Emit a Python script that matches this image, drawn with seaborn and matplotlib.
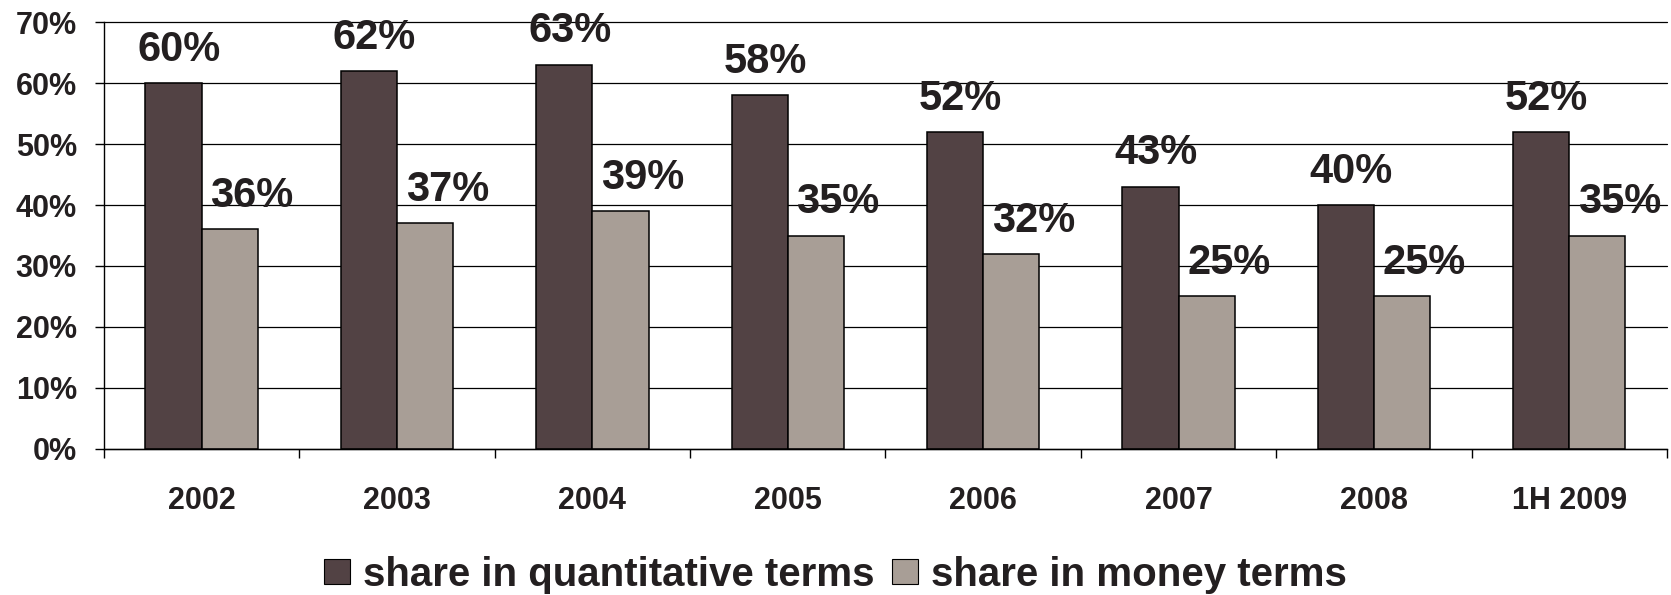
import matplotlib
matplotlib.use("Agg")
import matplotlib.pyplot as plt
from matplotlib.ticker import FixedLocator, MultipleLocator, FuncFormatter
import numpy as np
import pandas as pd
import seaborn as sns

# Share of transactions, by period
categories = ["2002", "2003", "2004", "2005", "2006", "2007", "2008", "1H 2009"]
quantitative = [60, 62, 63, 58, 52, 43, 40, 52]
money = [36, 37, 39, 35, 32, 25, 25, 35]
series_names = ["share in quantitative terms", "share in money terms"]

DARK = "#524244"
LIGHT = "#A89E96"

sns.set_theme(style="white")
plt.rcParams["font.family"] = ["Liberation Sans", "DejaVu Sans"]
plt.rcParams["font.weight"] = "bold"

df = pd.DataFrame({
    "period": categories * 2,
    "share": quantitative + money,
    "measure": [series_names[0]] * len(categories) + [series_names[1]] * len(categories),
})

fig = plt.figure(figsize=(16.71, 5.95), dpi=100)
ax = fig.add_axes([0.0622, 0.2454, 0.9976 - 0.0622, 0.963 - 0.2454])

sns.barplot(
    data=df, x="period", y="share", hue="measure",
    order=categories, hue_order=series_names,
    palette=[DARK, LIGHT], saturation=1, width=0.575, gap=0,
    edgecolor="black", linewidth=1.1, errorbar=None, ax=ax,
)

handles, labels = ax.get_legend_handles_labels()
if ax.get_legend() is not None:
    ax.get_legend().remove()

# value labels above each bar
x_shift = [4, 16]  # points, per series
for container, dx in zip(ax.containers, x_shift):
    for bar in container:
        h = bar.get_height()
        ax.annotate(
            f"{h:.0f}%",
            xy=(bar.get_x() + bar.get_width() / 2, h),
            xytext=(dx, 16), textcoords="offset points",
            ha="center", va="baseline",
            fontsize=30, fontweight="bold", color="#231f20",
            annotation_clip=False,
        )

ax.set_ylim(0, 70)
ax.set_xlim(-0.5, len(categories) - 0.5)
ax.yaxis.set_major_locator(MultipleLocator(10))
ax.yaxis.set_major_formatter(FuncFormatter(lambda v, p: f"{v:.0f}%"))
ax.yaxis.grid(True, color="black", linewidth=0.9)
ax.xaxis.grid(False)
ax.set_axisbelow(True)
for gl in ax.get_ygridlines():
    gl.set_clip_on(False)

ax.xaxis.set_minor_locator(FixedLocator(np.arange(-0.5, len(categories), 1.0)))
ax.tick_params(axis="x", which="major", length=0, pad=27, labelsize=22, labelcolor="#231f20")
ax.tick_params(axis="x", which="minor", length=6.5, width=1, color="black", direction="out", bottom=True)
ax.tick_params(axis="y", which="major", length=6.5, width=1, color="black", direction="out",
               left=True, pad=13, labelsize=22, labelcolor="#231f20")
for lab in ax.get_xticklabels() + ax.get_yticklabels():
    lab.set_fontweight("bold")

ax.set_xlabel("")
ax.set_ylabel("")
for side in ["top", "right"]:
    ax.spines[side].set_visible(False)
for side in ["left", "bottom"]:
    ax.spines[side].set_color("black")
    ax.spines[side].set_linewidth(1.0)

leg = fig.legend(
    handles, labels, loc="center", bbox_to_anchor=(0.5, 0.034), ncol=2,
    frameon=False, prop={"size": 29, "weight": "bold"},
    handlelength=0.64, handleheight=0.6, handletextpad=0.33, columnspacing=0.42,
    labelcolor="#231f20",
)
for h in leg.legend_handles:
    h.set_edgecolor("black")
    h.set_linewidth(0.8)

fig.savefig("out.png", dpi=100)
